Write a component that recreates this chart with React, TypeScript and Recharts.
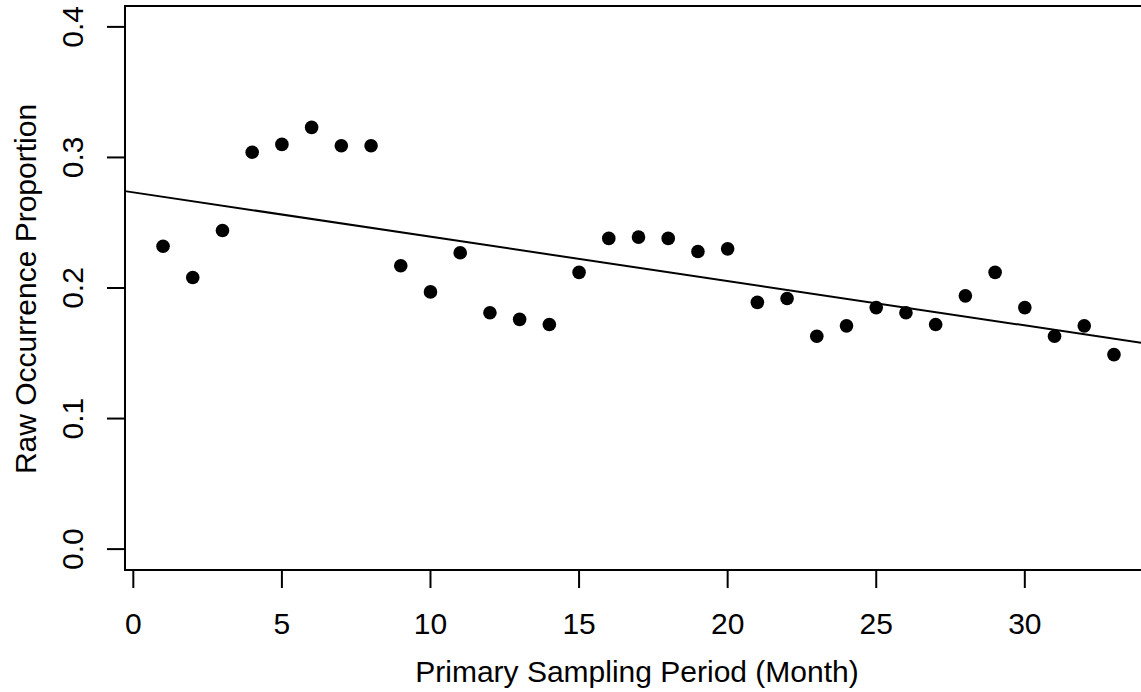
import { ScatterChart, Scatter, XAxis, YAxis, ReferenceLine, ReferenceArea } from 'recharts';

const months = [
  1, 2, 3, 4, 5, 6, 7, 8, 9, 10, 11, 12, 13, 14, 15, 16, 17, 18, 19, 20, 21, 22, 23, 24, 25, 26, 27,
  28, 29, 30, 31, 32, 33,
];
const proportion = [
  0.232, 0.208, 0.244, 0.304, 0.31, 0.323, 0.309, 0.309, 0.217, 0.197, 0.227, 0.181, 0.176, 0.172,
  0.212, 0.238, 0.239, 0.238, 0.228, 0.23, 0.189, 0.192, 0.163, 0.171, 0.185, 0.181, 0.172, 0.194,
  0.212, 0.185, 0.163, 0.171, 0.149,
];
// fitted trend line, end points
const trendX = [-0.28, 34.28];
const trendY = [0.2742, 0.1568];

const xTicks = [0, 5, 10, 15, 20, 25, 30];
const yTicks = [0, 0.1, 0.2, 0.3, 0.4];
const xDomain = [-0.28, 34.28];
const yDomain = [-0.016, 0.416];

const FONT = '"Liberation Sans", Arial, Helvetica, sans-serif';
const FS = 30;

const rows = months.map((m, i) => ({ month: m, prop: proportion[i] }));

function XTick(props: any) {
  const { x, y, payload } = props;
  return (
    <text x={x} y={y + 44} textAnchor="middle" fontFamily={FONT} fontSize={FS} fill="#000">
      {payload.value}
    </text>
  );
}

function YTick(props: any) {
  const { x, y, payload } = props;
  const bx = x - 22;
  return (
    <text
      x={bx}
      y={y}
      transform={`rotate(-90, ${bx}, ${y})`}
      textAnchor="middle"
      fontFamily={FONT}
      fontSize={FS}
      fill="#000"
    >
      {Number(payload.value).toFixed(1)}
    </text>
  );
}

function Dot(props: any) {
  return <circle cx={props.cx} cy={props.cy} r={6.8} fill="#000" />;
}

export default function App() {
  return (
    <div
      style={{
        position: 'fixed',
        left: 0,
        top: 0,
        width: 1141,
        height: 692,
        overflow: 'hidden',
        background: '#fff',
      }}
    >
      <ScatterChart width={1152} height={692} margin={{ top: 6, right: 0, bottom: 0, left: 0 }}>
        <XAxis
          type="number"
          dataKey="month"
          domain={xDomain}
          ticks={xTicks}
          allowDataOverflow
          height={122}
          axisLine={false}
          tickSize={18}
          tickLine={{ stroke: '#000', strokeWidth: 2 }}
          tick={<XTick />}
          interval={0}
        />
        <YAxis
          type="number"
          dataKey="prop"
          domain={yDomain}
          ticks={yTicks}
          allowDataOverflow
          width={125}
          axisLine={false}
          tickSize={18}
          tickLine={{ stroke: '#000', strokeWidth: 2 }}
          tick={<YTick />}
          interval={0}
        />
        <ReferenceArea
          x1={xDomain[0]}
          x2={xDomain[1]}
          y1={yDomain[0]}
          y2={yDomain[1]}
          fill="none"
          stroke="#000"
          strokeWidth={2}
          fillOpacity={0}
          strokeOpacity={1}
        />
        <ReferenceLine
          segment={[
            { x: trendX[0], y: trendY[0] },
            { x: trendX[1], y: trendY[1] },
          ]}
          stroke="#000"
          strokeWidth={2}
        />
        <Scatter data={rows} shape={<Dot />} isAnimationActive={false} />
        <text
          x={637}
          y={682}
          textAnchor="middle"
          fontFamily={FONT}
          fontSize={FS}
          fill="#000"
        >
          Primary Sampling Period (Month)
        </text>
        <text
          x={36}
          y={289}
          transform="rotate(-90, 36, 289)"
          textAnchor="middle"
          fontFamily={FONT}
          fontSize={FS}
          fill="#000"
        >
          Raw Occurrence Proportion
        </text>
      </ScatterChart>
    </div>
  );
}
